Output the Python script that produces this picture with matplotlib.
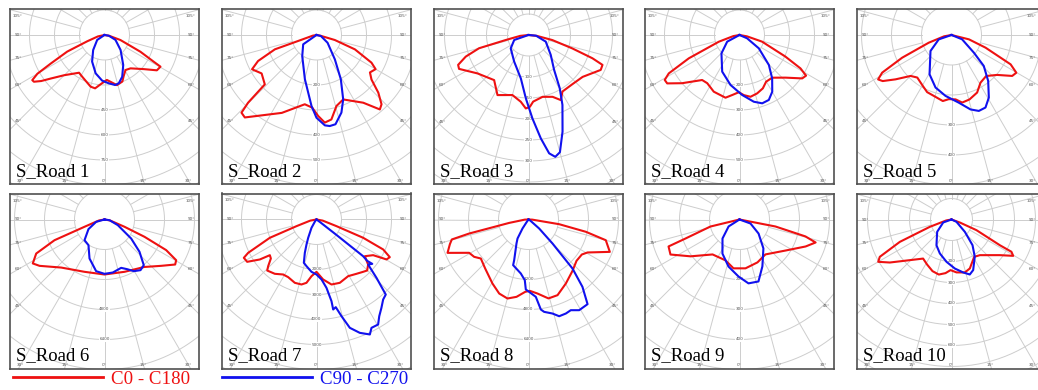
import numpy as np
import matplotlib.pyplot as plt

# ---- photometric data (gamma in degrees, negative = left half; intensity in cd) ----
r1_red_ang = [-90, -78, -70, -66, -62, -60, -58, -56.5, -54, -51, -45, -34, -28, -21, -15, -10, -3, 3, 7, 14, 21, 25, 31, 38, 49, 56, 60.5, 61.5, 65, 72.5, 80, 90]
r1_red_cd = [0, 40, 110, 245, 366, 465, 511, 508, 470, 415, 341, 273, 284, 301, 321, 325, 290, 270, 282, 310, 299, 272, 245, 254, 312, 379, 386, 336, 238, 100, 30, 0]
r1_blue_ang = [-90, -56, -37, -25, -13, -3, 5, 12, 16.5, 23, 32, 47, 66, 81, 90]
r1_blue_cd = [0, 53, 113, 176, 236, 274, 291, 307, 302, 272, 212, 132, 72, 26, 0]

r2_red_ang = [-90, -80, -72, -71, -66, -62, -55, -46.3, -45.3, -44, -41, -24, -9.6, -3.4, 1.2, 5.4, 10, 15.7, 22.5, 34.6, 40.4, 43.2, 47, 51, 55, 60, 63.3, 69.5, 74.7, 80, 90]
r2_red_cd = [0, 15, 77, 176, 256, 292, 268, 286, 385, 432, 437, 341, 281, 291, 324, 352, 343, 295, 279, 329, 391, 380, 338, 283, 261, 273, 246, 164, 76, 15, 0]
r2_blue_ang = [-90, -55, -34, -14.7, -4, 0, 5.3, 8.3, 12, 17.8, 22.5, 28.8, 37, 55, 77, 90]
r2_blue_cd = [0, 65, 102, 183, 285, 331, 363, 368, 365, 326, 279, 202, 122, 54, 18, 0]

r3_red_ang = [-90, -84, -77.6, -75, -71, -67, -64, -53, -37.3, -27.3, -15, -6.6, -2.1, 1.1, 4, 12.8, 21.3, 26.4, 31, 42, 52.3, 64.2, 68, 70, 73, 78, 84, 90]
r3_red_cd = [0, 20, 55, 122, 158, 182, 184, 152, 135, 161, 148, 160, 175, 171, 159, 151, 158, 173, 157, 157, 163, 191, 190, 162, 109, 58, 20, 0]
r3_blue_ang = [-90, -70.8, -53, -28.3, -10, -2.4, 2.7, 6.8, 9.9, 12.4, 15, 19.4, 25.9, 30.4, 36.3, 48.2, 69, 84.8, 90]
r3_blue_cd = [0, 36, 53, 72, 105, 151, 199, 248, 286, 297, 289, 244, 185, 147, 103, 71, 44, 18, 0]

r4_red_ang = [-90, -80, -72, -65.3, -61.5, -59, -56.2, -50, -39.7, -33.8, -24.4, -12.6, -7, -0.7, 4.1, 10.1, 16.8, 23.6, 29.7, 37.4, 47.2, 55.3, 58.6, 61.3, 64.8, 73.6, 80, 90]
r4_red_cd = [0, 25, 87, 223, 322, 349, 348, 300, 234, 232, 249, 257, 242, 229, 241, 251, 244, 233, 215, 215, 251, 305, 312, 278, 203, 94, 30, 0]
r4_blue_ang = [-90, -61.6, -44.5, -25.3, -10.2, 2.5, 12.1, 18.4, 24.3, 30, 37, 44.4, 55.4, 66.5, 90]
r4_blue_cd = [0, 56, 103, 162, 203, 240, 273, 288, 285, 262, 217, 168, 94, 33, 0]

r5_red_ang = [-90, -80, -71.3, -65.3, -61.5, -58.8, -56.2, -51.6, -45, -38.8, -29.3, -23.1, -14.5, -7.5, -2.4, 3.6, 9, 15.6, 24, 31.3, 40.2, 48.8, 56, 59.8, 63.6, 69.6, 76, 90]
r5_red_cd = [0, 25, 80, 181, 263, 286, 276, 238, 193, 182, 195, 207, 213, 222, 214, 215, 228, 223, 210, 186, 179, 202, 244, 250, 220, 121, 60, 0]
r5_blue_ang = [-90, -71, -52.7, -29.2, -16.9, -5.6, 6.2, 14.3, 19.8, 25.1, 30.8, 38.6, 46.2, 51.7, 67.9, 90]
r5_blue_cd = [0, 45, 88, 150, 183, 204, 227, 256, 269, 267, 243, 196, 149, 95, 38, 0]

r6_red_ang = [-90, -80, -70, -67.5, -63.5, -58.5, -54.5, -42, -21, 0, 21, 40, 50.7, 57.5, 60.4, 63.6, 66.6, 70, 80, 90]
r6_red_cd = [0, 300, 1136, 2887, 4070, 4486, 4256, 3449, 2988, 2933, 2988, 3305, 3902, 4468, 4396, 3672, 2325, 1136, 300, 0]
r6_blue_ang = [-90, -74.4, -59, -44, -32, -21, -9.2, 0, 8.9, 19, 24.5, 29.6, 35.4, 40.7, 47.3, 54.5, 67, 82, 90]
r6_blue_cd = [0, 462, 997, 1535, 1613, 2229, 2792, 2898, 2862, 2727, 2912, 3169, 3315, 3214, 2540, 1746, 773, 269, 0]

r7_red_ang = [-90, -80, -71.6, -68.6, -64, -62.2, -58.6, -54.8, -52.6, -49.5, -46, -44, -37.5, -31.2, -26.2, -18.9, -13, -9, -5, 0, 6.3, 13, 20.2, 29.2, 36.4, 41.7, 44.8, 48.9, 52.8, 57.8, 60.3, 62.8, 65.8, 68.6, 71.6, 80, 90]
r7_red_cd = [0, 250, 843, 2005, 3041, 3286, 3249, 2774, 2349, 2401, 2687, 2838, 2738, 2572, 2569, 2677, 2668, 2564, 2275, 2093, 2414, 2668, 2699, 2596, 2698, 2803, 2875, 2740, 2428, 2678, 3225, 3297, 2924, 2005, 843, 250, 0]
r7_blue_ang = [-90, -40, -31, -24.4, -21.8, -19.3, -16.3, -12.1, -5.5, 0, 4.8, 8.3, 10.4, 10.5, 12.4, 14.5, 17.1, 20.9, 24.9, 26.9, 30.4, 33, 36.3, 39.8, 42.7, 45.8, 48.9, 51.5, 50.8, 51.8, 52.3, 53.5, 90]
r7_blue_cd = [0, 80, 389, 805, 1077, 1412, 1806, 1909, 2102, 2200, 2408, 2762, 3320, 3661, 3590, 3995, 4533, 4853, 5070, 4860, 4870, 4609, 4386, 4165, 4085, 3347, 2740, 2850, 2620, 2374, 1000, 200, 0]

r8_red_ang = [-90, -88, -80, -76.7, -75.4, -72.6, -67.6, -60.7, -55.5, -50.7, -41.5, -29.4, -21.6, -14.9, -8.8, -2.6, 1.1, 6.9, 14.2, 21, 30.3, 40.6, 49.3, 56.7, 60.8, 68.3, 72, 75, 77.9, 81.3, 88, 90]
r8_red_cd = [0, 200, 1046, 3252, 4227, 4393, 4671, 3630, 3516, 3285, 3488, 3917, 4246, 4360, 4174, 3862, 3806, 3976, 4342, 4322, 3951, 3606, 3379, 3402, 3605, 4668, 4430, 4269, 3129, 1654, 200, 0]
r8_blue_ang = [-90, -36, -33.7, -30, -26.6, -19.4, -18.6, -8.1, -3.5, -2.2, 0.5, 5.4, 7.8, 9.6, 14.3, 17.6, 21.7, 25, 29.2, 34.9, 38.7, 41.9, 45, 49.8, 60, 90]
r8_blue_cd = [0, 150, 577, 1171, 1431, 2300, 2569, 2909, 3242, 3736, 3858, 4143, 4845, 4995, 5175, 5412, 5395, 5337, 5541, 5505, 4603, 3515, 1810, 744, 100, 0]

r9_red_ang = [-90, -76.4, -70.6, -69.2, -63.1, -53, -37.6, -18.9, -7, 7, 22.7, 36.6, 56, 67.8, 73.2, 75.6, 79, 90]
r9_red_cd = [0, 100, 191, 253, 258, 204, 147, 144, 164, 164, 155, 145, 185, 238, 265, 227, 122, 0]
r9_blue_ang = [-90, -57.5, -41.8, -26.6, -13.2, -1, 8, 17, 26, 39.6, 53.6, 70, 90]
r9_blue_cd = [0, 43, 85, 127, 161, 190, 215, 216, 174, 125, 79, 39, 0]

r10_red_ang = [-90, -80, -71.3, -66.6, -62.5, -60, -55.1, -36, -28.4, -20.2, -13, -6.4, -1.1, 5.4, 14.1, 20.5, 31.3, 38.5, 53.6, 59.5, 61.7, 62, 66.9, 70.2, 90]
r10_red_cd = [0, 25, 109, 268, 385, 403, 358, 230, 244, 262, 269, 257, 241, 253, 260, 249, 208, 217, 286, 341, 324, 261, 129, 42, 0]
r10_blue_ang = [-90, -70.2, -49.3, -30.3, -18.9, -6.7, 3.9, 12.4, 18.4, 23.2, 32, 39.3, 47.2, 65, 90]
r10_blue_cd = [0, 42, 90, 142, 171, 203, 234, 258, 276, 262, 209, 158, 87, 26, 0]

titles = ["S_Road %d" % n for n in range(1, 11)]
ring_step = [150, 100, 50, 100, 100, 1600, 1000, 1600, 100, 100]
ring_labels = [[450, 600, 750], [200, 400, 500], [100, 150, 200, 250, 300],
               [200, 300, 400, 500], [300, 400], [4800, 6400],
               [2000, 3000, 4000, 5000], [3200, 4800, 6400], [200, 300, 400],
               [200, 300, 400, 500, 600]]
side_angles = [105, 90, 75, 60, 45]
bottom_angles = [-30, -15, 0, 15, 30]

red_curves = [(r1_red_ang, r1_red_cd), (r2_red_ang, r2_red_cd), (r3_red_ang, r3_red_cd),
              (r4_red_ang, r4_red_cd), (r5_red_ang, r5_red_cd), (r6_red_ang, r6_red_cd),
              (r7_red_ang, r7_red_cd), (r8_red_ang, r8_red_cd), (r9_red_ang, r9_red_cd),
              (r10_red_ang, r10_red_cd)]
blue_curves = [(r1_blue_ang, r1_blue_cd), (r2_blue_ang, r2_blue_cd), (r3_blue_ang, r3_blue_cd),
               (r4_blue_ang, r4_blue_cd), (r5_blue_ang, r5_blue_cd), (r6_blue_ang, r6_blue_cd),
               (r7_blue_ang, r7_blue_cd), (r8_blue_ang, r8_blue_cd), (r9_blue_ang, r9_blue_cd),
               (r10_blue_ang, r10_blue_cd)]

# ---- layout (pixels) ----
W, H = 1038, 390
ring_px = [25, 25, 21, 25, 30, 30, 25, 30, 30, 21]
box_w, box_h, c_off = 189, 175, 26
col_x = [10, 222, 434, 645, 857]
row_y = [9, 193.5]

RED = '#ee1111'
BLUE = '#1111ee'
GRID = '#cdcdcd'
LBL = '#555555'
SERIF = 'Liberation Serif'

fig = plt.figure(figsize=(W / 100, H / 100), dpi=100)


def to_xy(ang, cd):
    g = np.radians(ang)
    cd = np.asarray(cd, dtype=float)
    return cd * np.sin(g), -cd * np.cos(g)


handles = []
for i in range(10):
    x0 = col_x[i % 5]
    y0 = row_y[i // 5]
    ax = fig.add_axes([x0 / W, 1 - (y0 + box_h) / H, box_w / W, box_h / H])
    s = ring_step[i] / ring_px[i]      # cd per pixel
    xmax = box_w / 2 * s
    ytop = c_off * s
    ybot = -(box_h - c_off) * s
    ax.set_xlim(-xmax, xmax)
    ax.set_ylim(ybot, ytop)

    # polar grid
    step = ring_step[i]
    nring = int(np.hypot(xmax, ybot) / step) + 2
    t = np.linspace(0, 2 * np.pi, 400)
    for k in range(1, nring + 1):
        ax.plot(k * step * np.cos(t), k * step * np.sin(t), color=GRID, lw=0.7, zorder=1)
    for a in range(0, 360, 15):
        rx, ry = to_xy([a, a], [step, nring * step])
        ax.plot(rx, ry, color=GRID, lw=0.7, zorder=1)

    # angle labels on the frame
    inset = 8 * s
    x_room = (W - 2 - x0 - box_w / 2) * s   # keep labels inside the picture
    for a in side_angles:
        g = np.radians(a)
        y = -(xmax - inset) * np.cos(g) / np.sin(g)
        y = min(y, ytop - 7 * s)
        for sign in (-1, 1):
            xl = sign * (xmax - inset)
            ha = 'center'
            if xl + 5 * s > x_room:
                xl, ha = x_room, 'right'
            ax.text(xl, y, "%d°" % a, fontsize=3, color=LBL,
                    ha=ha, va='center', zorder=2)
    for a in bottom_angles:
        yb = ybot + 3 * s
        x = -yb * np.tan(np.radians(a))
        ha = 'center'
        if x + 5 * s > x_room:
            x, ha = x_room, 'right'
        ax.text(x, yb, "%d°" % abs(a), fontsize=3, color=LBL,
                ha=ha, va='center', zorder=2)

    # intensity labels along 0°
    for v in ring_labels[i]:
        ax.text(0, -v, str(v), fontsize=3, color=LBL, ha='center', va='center',
                zorder=2, bbox=dict(facecolor='white', edgecolor='none', pad=0.3))

    # curves
    rx, ry = to_xy(*red_curves[i])
    lr, = ax.plot(rx, ry, color=RED, lw=1.5, zorder=4, label='C0 - C180')
    bx, by = to_xy(*blue_curves[i])
    lb, = ax.plot(bx, by, color=BLUE, lw=1.5, zorder=5, label='C90 - C270')
    if i == 0:
        handles = [lr, lb]

    ax.text(6 / box_w, 8 / box_h, titles[i], transform=ax.transAxes, family=SERIF,
            fontsize=13.5, ha='left', va='baseline', zorder=6)

    ax.set_xticks([])
    ax.set_yticks([])
    for sp in ax.spines.values():
        sp.set_color('#505050')
        sp.set_linewidth(1.2)

leg = fig.legend(handles=handles, loc='center left', bbox_to_anchor=(13 / W, 1 - 379 / H),
                 ncol=2, frameon=False, handlelength=4.75, handletextpad=0.42,
                 columnspacing=1.72, borderpad=0, borderaxespad=0,
                 prop={'family': SERIF, 'size': 13.6}, labelcolor='linecolor')
for ln in leg.get_lines():
    ln.set_linewidth(2)

fig.savefig('out.png', dpi=100)
